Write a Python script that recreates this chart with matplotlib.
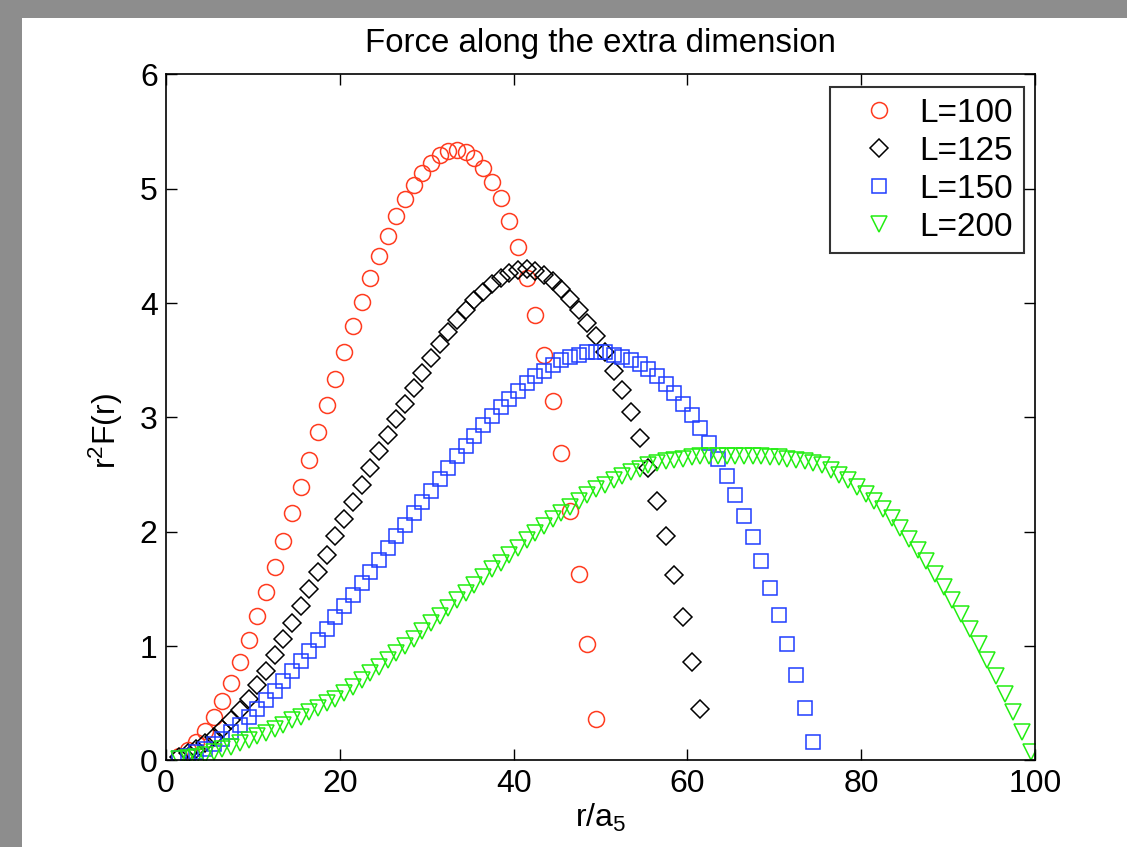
import numpy as np
import matplotlib
matplotlib.use("Agg")
from matplotlib import pyplot as plt
from matplotlib.patches import Rectangle

plt.rcParams['font.family'] = ['Liberation Sans', 'DejaVu Sans']
plt.rcParams['mathtext.fontset'] = 'custom'
plt.rcParams['mathtext.rm'] = 'Liberation Sans'
plt.rcParams['mathtext.it'] = 'Liberation Sans'

# r^2 F(r), one value per lattice point (r = 1.5, 2.5, ...)
f100 = [0.04, 0.09, 0.16, 0.26, 0.38, 0.52, 0.68, 0.86, 1.05, 1.26,
        1.47, 1.69, 1.92, 2.16, 2.39, 2.63, 2.87, 3.11, 3.34, 3.57,
        3.80, 4.01, 4.22, 4.41, 4.59, 4.76, 4.91, 5.03, 5.14, 5.23,
        5.30, 5.33, 5.34, 5.32, 5.27, 5.18, 5.06, 4.92, 4.72, 4.49,
        4.22, 3.90, 3.55, 3.14, 2.69, 2.18, 1.63, 1.02, 0.36]

f125 = [0.03, 0.06, 0.10, 0.15, 0.20, 0.27, 0.35, 0.44, 0.54, 0.66,
        0.78, 0.92, 1.06, 1.20, 1.35, 1.50, 1.65, 1.80, 1.96, 2.11,
        2.26, 2.41, 2.56, 2.71, 2.85, 2.99, 3.12, 3.26, 3.39, 3.52,
        3.64, 3.75, 3.85, 3.94, 4.03, 4.10, 4.17, 4.22, 4.26, 4.29,
        4.30, 4.28, 4.25, 4.19, 4.12, 4.04, 3.94, 3.83, 3.71, 3.57,
        3.41, 3.24, 3.05, 2.82, 2.56, 2.27, 1.96, 1.62, 1.25, 0.86,
        0.45]

f150 = [0.02, 0.04, 0.07, 0.10, 0.14, 0.19, 0.25, 0.31, 0.38, 0.45,
        0.53, 0.61, 0.69, 0.78, 0.87, 0.96, 1.05, 1.15, 1.25, 1.35,
        1.45, 1.55, 1.65, 1.75, 1.86, 1.96, 2.06, 2.16, 2.26, 2.36,
        2.46, 2.56, 2.66, 2.75, 2.84, 2.93, 3.01, 3.09, 3.16, 3.23,
        3.30, 3.36, 3.41, 3.46, 3.50, 3.53, 3.55, 3.57, 3.57, 3.57,
        3.55, 3.53, 3.50, 3.47, 3.42, 3.36, 3.29, 3.21, 3.12, 3.02,
        2.91, 2.78, 2.64, 2.49, 2.32, 2.14, 1.95, 1.74, 1.51, 1.27,
        1.02, 0.75, 0.46, 0.16]

f200 = [0.01, 0.02, 0.03, 0.05, 0.07, 0.10, 0.12, 0.15, 0.18, 0.21,
        0.24, 0.27, 0.31, 0.35, 0.38, 0.42, 0.46, 0.50, 0.54, 0.59,
        0.64, 0.70, 0.76, 0.82, 0.88, 0.94, 1.00, 1.06, 1.13, 1.20,
        1.26, 1.33, 1.40, 1.46, 1.53, 1.60, 1.67, 1.73, 1.80, 1.86,
        1.93, 1.99, 2.05, 2.11, 2.16, 2.22, 2.27, 2.32, 2.37, 2.41,
        2.45, 2.49, 2.52, 2.55, 2.58, 2.60, 2.62, 2.63, 2.64, 2.65,
        2.66, 2.66, 2.66, 2.66, 2.66, 2.66, 2.66, 2.66, 2.65, 2.65,
        2.64, 2.63, 2.62, 2.60, 2.58, 2.54, 2.50, 2.45, 2.39, 2.33,
        2.27, 2.20, 2.12, 2.03, 1.94, 1.84, 1.74, 1.63, 1.52, 1.40,
        1.28, 1.15, 1.02, 0.88, 0.74, 0.58, 0.42, 0.25, 0.07]

labels = ["L=100", "L=125", "L=150", "L=200"]


def rvals(f):
    return np.arange(len(f)) + 1.5


fig = plt.figure(figsize=(11.27, 8.47), dpi=100)
fig.patch.set_facecolor("#8d8d8d")
panel = Rectangle((22 / 1127, 0), 1, 1 - 18 / 847, transform=fig.transFigure,
                  facecolor="white", edgecolor="none", zorder=-10)
fig.add_artist(panel)

ax = fig.add_axes([166 / 1127, 1 - 760.3 / 847, (1035 - 166) / 1127, (760.3 - 74.5) / 847])
ax.set_zorder(1)

ax.plot(rvals(f100), f100, 'o', mfc='none', mec='#ff3b1f', ms=11.5, mew=1.1, label=labels[0])
ax.plot(rvals(f125), f125, 'D', mfc='none', mec='black', ms=9.3, mew=1.1, label=labels[1])
ax.plot(rvals(f150), f150, 's', mfc='none', mec='#1f3dff', ms=10.5, mew=1.1, label=labels[2])
ax.plot(rvals(f200), f200, 'v', mfc='none', mec='#22ee11', ms=11.5, mew=1.1, label=labels[3])

ax.set_xlim(0, 100)
ax.set_ylim(0, 6)
ax.set_xticks(np.arange(0, 101, 20))
ax.set_yticks(np.arange(0, 7, 1))
ax.tick_params(direction='in', length=8, width=1, top=True, right=True,
               labelsize=23, pad=6)
for s in ax.spines.values():
    s.set_linewidth(1.2)

ax.set_title("Force along the extra dimension", fontsize=23.8, pad=16)
ax.set_xlabel(r"r/a$_5$", fontsize=23, labelpad=2)
ax.set_ylabel(r"r$^2$F(r)", fontsize=23)
ax.yaxis.set_label_coords(-0.047, 0.48)

leg = ax.legend(loc='upper right', bbox_to_anchor=(1 - 11 / 869, 1 - 12.5 / 685.8),
                borderaxespad=0, fancybox=False, edgecolor='black', fontsize=24,
                handletextpad=0.08, labelspacing=0.21, borderpad=0.32, handlelength=2.3)
leg.get_frame().set_linewidth(1.5)

fig.savefig("out.png", dpi=100, facecolor=fig.get_facecolor())
